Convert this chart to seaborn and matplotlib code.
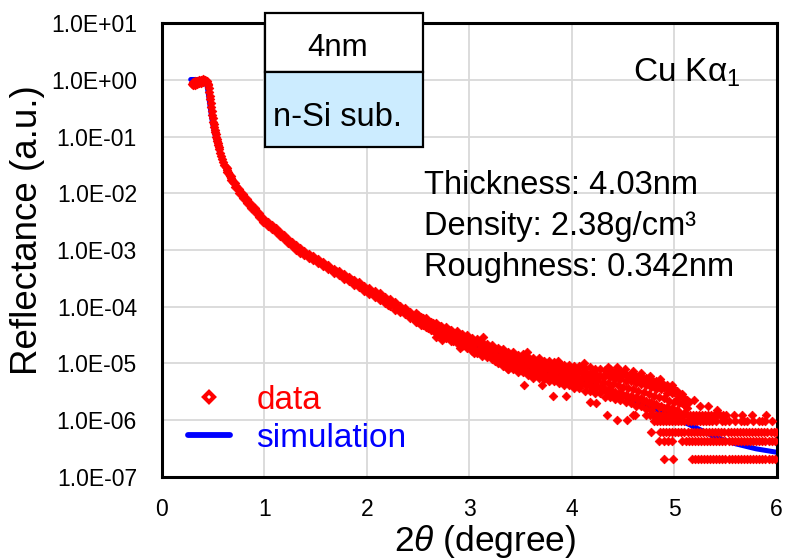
import matplotlib
matplotlib.use("Agg")
import matplotlib.pyplot as plt
import pandas as pd
import seaborn as sns
from matplotlib.lines import Line2D
from matplotlib.patches import Rectangle
from matplotlib.ticker import NullLocator

# ---------------- data ----------------
main_x = [
    0.29, 0.30, 0.31, 0.32, 0.33, 0.34, 0.35, 0.36, 0.37, 0.38,
    0.39, 0.40, 0.41, 0.42, 0.425, 0.43, 0.435, 0.44, 0.445, 0.45,
    0.455, 0.46, 0.465, 0.47, 0.475, 0.48, 0.485, 0.49, 0.495, 0.50,
    0.505, 0.51, 0.515, 0.52, 0.525, 0.53, 0.535, 0.54, 0.545, 0.55,
    0.555, 0.56, 0.57, 0.58, 0.59, 0.60, 0.61, 0.62, 0.63, 0.64,
    0.65, 0.66, 0.67, 0.68, 0.69, 0.70, 0.72, 0.74, 0.76, 0.78,
    0.80, 0.82, 0.84, 0.86, 0.88, 0.90, 0.92, 0.94, 0.96, 0.98,
    1.00, 1.02, 1.04, 1.06, 1.08, 1.10, 1.13, 1.16, 1.19, 1.22,
    1.25, 1.28, 1.31, 1.34, 1.37, 1.40, 1.43, 1.46, 1.49, 1.52,
    1.55, 1.58, 1.61, 1.64, 1.67, 1.70, 1.73, 1.76, 1.79, 1.82,
    1.85, 1.88, 1.91, 1.94, 1.97, 2.00, 2.05, 2.10, 2.15, 2.20,
    2.25, 2.30, 2.35, 2.40, 2.45, 2.50, 2.55, 2.60, 2.65, 2.70,
    2.75, 2.80, 2.85, 2.90, 2.95, 3.00, 3.05, 3.10, 3.15, 3.20,
    3.25, 3.30, 3.35, 3.40, 3.45, 3.50, 3.55, 3.60, 3.65, 3.70,
    3.75, 3.80, 3.85, 3.90, 3.95, 4.00, 4.05, 4.10, 4.15, 4.20,
    4.25, 4.30, 4.35, 4.40, 4.45, 4.50, 4.55, 4.60, 4.65, 4.70,
    4.75, 4.80, 4.85, 4.90, 4.95, 5.00, 5.05, 5.10]
main_y = [
    0.86, 0.87, 0.88, 0.89, 0.90, 0.91, 0.92, 0.93, 0.94, 0.95,
    0.96, 0.97, 0.98, 0.98, 0.97, 0.96, 0.94, 0.90, 0.86, 0.80,
    0.71, 0.61, 0.53, 0.46, 0.39, 0.33, 0.28, 0.245, 0.21, 0.185,
    0.165, 0.148, 0.132, 0.120, 0.110, 0.100, 0.092, 0.084, 0.077, 0.071,
    0.066, 0.061, 0.052, 0.045, 0.040, 0.036, 0.032, 0.029, 0.026, 0.024,
    0.022, 0.020, 0.0185, 0.0172, 0.0160, 0.0150, 0.0132, 0.0117, 0.0104, 0.0094,
    0.0085, 0.0077, 0.0070, 0.0063, 0.0057, 0.0052, 0.0048, 0.0044, 0.0040, 0.0036,
    0.0033, 0.0031, 0.0028, 0.0026, 0.0025, 0.0023, 0.0021, 0.00186, 0.00168, 0.00151,
    0.00137, 0.00124, 0.00111, 0.00100, 0.00093, 0.00085, 0.00079, 0.00074, 0.00069, 0.00065,
    0.00060, 0.00056, 0.00052, 0.00048, 0.00045, 0.00042, 0.00039, 0.00036, 0.00033, 0.00031,
    0.00029, 0.00027, 0.00025, 0.00023, 0.000215, 0.000200, 0.000178, 0.000158, 0.000141, 0.000126,
    1.10e-4, 9.8e-5, 8.7e-5, 7.8e-5, 6.9e-5, 6.2e-5, 5.5e-5, 4.9e-5, 4.4e-5, 3.9e-5,
    3.5e-5, 3.3e-5, 3.0e-5, 2.75e-5, 2.5e-5, 2.3e-5, 2.1e-5, 1.9e-5, 1.76e-5, 1.62e-5,
    1.48e-5, 1.35e-5, 1.23e-5, 1.12e-5, 1.06e-5, 1.00e-5, 9.4e-6, 8.9e-6, 8.5e-6, 8.1e-6,
    7.8e-6, 7.4e-6, 7.0e-6, 6.6e-6, 6.3e-6, 6.0e-6, 5.7e-6, 5.5e-6, 5.3e-6, 5.1e-6,
    4.9e-6, 4.7e-6, 4.5e-6, 4.3e-6, 4.1e-6, 3.9e-6, 3.7e-6, 3.5e-6, 3.3e-6, 3.1e-6,
    2.9e-6, 2.7e-6, 2.5e-6, 2.4e-6, 2.2e-6, 2.1e-6, 2.0e-6, 1.9e-6]

# scatter just above / below the main trace
bandP_x = [0.30, 0.32, 0.34, 0.36, 0.38, 0.40]
bandP_hi = [0.93, 0.95, 0.97, 0.99, 1.01, 1.03]
bandP_lo = [0.81, 0.83, 0.85, 0.87, 0.89, 0.91]

bandL_x = [0.63, 0.67, 0.71, 0.75, 0.79, 0.83, 0.87, 0.91, 0.95, 0.99, 1.03,
           1.07, 1.11, 1.15, 1.19, 1.23, 1.27, 1.31, 1.35, 1.39, 1.43, 1.47]
bandL_hi = [0.0283, 0.0202, 0.0154, 0.0120, 0.0097, 0.0080, 0.0065, 0.00545, 0.00458, 0.0037,
            0.00316, 0.00278, 0.00243, 0.00211, 0.00183, 0.00159, 0.0014, 0.00121, 0.00107,
            0.00096, 0.00086, 0.00078]
bandL_lo = [0.0239, 0.0170, 0.0129, 0.0101, 0.0082, 0.0067, 0.0055, 0.0046, 0.00385, 0.0031,
            0.00266, 0.00234, 0.00205, 0.00178, 0.00154, 0.00134, 0.00117, 0.00102, 0.0009,
            0.00081, 0.00072, 0.00066]

bandA_x = [1.525, 1.575, 1.625, 1.675, 1.725, 1.775, 1.825, 1.875, 1.925, 1.975,
           2.025, 2.075, 2.125, 2.175, 2.225, 2.275]
bandA_hi = [6.8e-4, 6.1e-4, 5.5e-4, 4.7e-4, 4.3e-4, 3.7e-4, 3.4e-4, 3.0e-4, 2.7e-4, 2.3e-4,
            2.1e-4, 1.9e-4, 1.72e-4, 1.5e-4, 1.35e-4, 1.19e-4]
bandA_lo = [6.0e-4, 5.2e-4, 4.7e-4, 4.0e-4, 3.6e-4, 3.1e-4, 2.8e-4, 2.4e-4, 2.2e-4, 1.9e-4,
            1.68e-4, 1.46e-4, 1.33e-4, 1.16e-4, 1.02e-4, 8.8e-5]

bandB_x = [2.325, 2.375, 2.425, 2.475, 2.525, 2.575, 2.625, 2.675, 2.725, 2.775,
           2.825, 2.875, 2.925, 2.975, 3.025, 3.075, 3.125, 3.175, 3.225, 3.275]
bandB_hi = [1.035e-4, 9.4e-5, 8.0e-5, 7.7e-5, 6.7e-5, 6.2e-5, 5.4e-5, 5.1e-5, 4.5e-5, 4.3e-5,
            3.9e-5, 3.7e-5, 3.3e-5, 3.16e-5, 2.8e-5, 2.7e-5, 2.4e-5, 2.2e-5, 2.1e-5, 1.86e-5]
bandB_lo = [8.0e-5, 7.3e-5, 6.2e-5, 5.7e-5, 4.8e-5, 4.4e-5, 3.8e-5, 3.4e-5, 3.0e-5, 2.8e-5,
            2.45e-5, 2.3e-5, 2.0e-5, 1.86e-5, 1.66e-5, 1.55e-5, 1.35e-5, 1.29e-5, 1.17e-5, 1.02e-5]

bandB2_x = [2.50, 2.55, 2.60, 2.65, 2.70, 2.75, 2.80, 2.85, 2.90, 2.95,
            3.00, 3.05, 3.10, 3.15, 3.20, 3.25]
bandB2_hi = [7.1e-5, 6.3e-5, 5.6e-5, 5.1e-5, 4.5e-5, 4.0e-5, 3.8e-5, 3.5e-5, 3.2e-5, 2.9e-5,
             2.65e-5, 2.45e-5, 2.2e-5, 2.05e-5, 1.88e-5, 1.72e-5]
bandB2_lo = [5.3e-5, 4.7e-5, 4.2e-5, 3.8e-5, 3.3e-5, 3.0e-5, 2.8e-5, 2.55e-5, 2.35e-5, 2.15e-5,
             1.96e-5, 1.8e-5, 1.62e-5, 1.5e-5, 1.38e-5, 1.26e-5]

bandC_x = [3.325, 3.375, 3.425, 3.475, 3.525, 3.575, 3.625, 3.675, 3.725, 3.775,
           3.825, 3.875, 3.925, 3.975, 4.025, 4.075, 4.125, 4.175, 4.225, 4.275]
bandC_1 = [1.82e-5, 1.58e-5, 1.58e-5, 1.41e-5, 1.45e-5, 1.29e-5, 1.26e-5, 1.26e-5, 1.12e-5, 1.12e-5,
           1.05e-5, 1.02e-5, 9.5e-6, 9.5e-6, 8.9e-6, 8.9e-6, 8.3e-6, 8.5e-6, 7.9e-6, 7.9e-6]
bandC_2 = [1.48e-5, 1.32e-5, 1.29e-5, 1.17e-5, 1.17e-5, 1.07e-5, 1.0e-5, 1.0e-5, 9.3e-6, 8.7e-6,
           8.7e-6, 7.9e-6, 7.8e-6, 7.2e-6, 7.1e-6, 6.9e-6, 6.5e-6, 6.5e-6, 6.0e-6, 6.0e-6]
bandC_3 = [1.10e-5, 9.5e-6, 9.5e-6, 8.5e-6, 8.3e-6, 7.4e-6, 7.2e-6, 7.1e-6, 6.5e-6, 6.3e-6,
           6.2e-6, 5.5e-6, 5.4e-6, 5.0e-6, 4.9e-6, 4.6e-6, 4.3e-6, 4.3e-6, 4.0e-6, 3.9e-6]
bandC_4 = [9.1e-6, 8.1e-6, 7.9e-6, 6.9e-6, 6.9e-6, 6.2e-6, 6.0e-6, 5.5e-6, 5.4e-6, 4.9e-6,
           4.9e-6, 4.5e-6, 4.2e-6, 4.1e-6, 3.7e-6, 3.6e-6, 3.3e-6, 3.3e-6, 3.0e-6, 2.95e-6]

bandC2_x = [3.30, 3.35, 3.40, 3.45, 3.50, 3.55, 3.60, 3.65, 3.70, 3.75, 3.80,
            3.85, 3.90, 3.95, 4.00, 4.05, 4.10, 4.15, 4.20, 4.25, 4.30]
bandC2_hi = [1.7e-5, 1.58e-5, 1.4e-5, 1.36e-5, 1.27e-5, 1.2e-5, 1.13e-5, 1.1e-5, 1.03e-5, 1.0e-5,
             9.5e-6, 8.9e-6, 8.5e-6, 8.0e-6, 7.7e-6, 7.3e-6, 7.0e-6, 6.8e-6, 6.5e-6, 6.3e-6, 6.0e-6]
bandC2_lo = [1.05e-5, 9.4e-6, 8.8e-6, 8.2e-6, 7.7e-6, 7.3e-6, 6.9e-6, 6.5e-6, 6.3e-6, 6.0e-6,
             5.7e-6, 5.5e-6, 5.1e-6, 4.9e-6, 4.6e-6, 4.4e-6, 4.3e-6, 4.1e-6, 3.9e-6, 3.8e-6, 3.6e-6]

bandD_x = [4.325, 4.375, 4.425, 4.475, 4.525, 4.575, 4.625, 4.675, 4.725, 4.775,
           4.825, 4.875, 4.925, 4.975, 5.025, 5.075, 5.125]
bandD_1 = [7.6e-6, 7.8e-6, 7.1e-6, 7.2e-6, 6.6e-6, 6.6e-6, 6.0e-6, 6.0e-6, 5.5e-6, 5.4e-6,
           4.9e-6, 4.7e-6, 4.2e-6, 4.1e-6, 3.2e-6, 2.9e-6, 2.3e-6]
bandD_2 = [5.9e-6, 5.75e-6, 5.25e-6, 5.25e-6, 4.9e-6, 4.8e-6, 4.5e-6, 4.4e-6, 4.1e-6, 3.85e-6,
           3.55e-6, 3.5e-6, 3.05e-6, 3.0e-6, 2.35e-6, 2.0e-6, 1.6e-6]
bandD_3 = [3.5e-6, 3.5e-6, 3.16e-6, 3.1e-6, 2.8e-6, 2.7e-6, 2.5e-6, 2.4e-6, 2.2e-6, 2.07e-6,
           1.9e-6, 1.8e-6, 1.68e-6, 1.64e-6, 1.5e-6]
bandD_4 = [2.6e-6, 2.6e-6, 2.34e-6, 2.3e-6, 2.1e-6, 2.0e-6, 1.8e-6, 1.74e-6, 1.58e-6, 1.5e-6]

bandD2_x = [4.35, 4.40, 4.45, 4.50, 4.55, 4.60, 4.65, 4.70, 4.75, 4.80,
            4.85, 4.90, 4.95, 5.00, 5.05, 5.10]
bandD2_hi = [7.2e-6, 6.8e-6, 6.6e-6, 6.2e-6, 5.9e-6, 5.6e-6, 5.3e-6, 5.0e-6, 4.6e-6, 4.3e-6,
             4.0e-6, 3.8e-6, 3.5e-6, 3.1e-6, 2.7e-6, 2.4e-6]
bandD2_lo = [3.1e-6, 3.0e-6, 2.8e-6, 2.7e-6, 2.55e-6, 2.4e-6, 2.3e-6, 2.15e-6, 2.0e-6, 1.86e-6,
             1.72e-6, 1.65e-6, 1.52e-6, 1.45e-6, 1.4e-6, 1.35e-6]

out_x = [2.21, 2.48, 2.58, 2.67, 2.73, 2.84, 2.91, 3.05, 3.13, 3.25,
         3.38, 3.53, 3.56, 3.62, 3.71, 3.82, 3.87, 3.94, 4.12, 4.18,
         4.24, 4.34, 4.35, 4.44, 4.44, 4.52, 4.54, 4.60, 4.60, 4.62,
         4.68, 4.76, 4.86, 4.98, 5.14, 5.19, 5.25, 5.33, 5.42]
out_y = [1.05e-4, 5.3e-5, 5.8e-5, 2.9e-5, 2.6e-5, 2.5e-5, 1.9e-5, 1.55e-5, 2.9e-5, 1.1e-5,
         7.9e-6, 4.2e-6, 1.6e-5, 5.6e-6, 4.2e-6, 2.7e-6, 1.1e-5, 2.7e-6, 1.0e-5, 2.1e-6,
         2.0e-6, 1.25e-6, 8.5e-6, 8.7e-6, 1.0e-6, 8.0e-6, 1.0e-6, 7.2e-6, 1.25e-6, 1.25e-6,
         6.8e-6, 6.0e-6, 5.2e-6, 3.9e-6, 2.1e-6, 2.3e-6, 1.74e-6, 1.74e-6, 1.5e-6]

# count-limited levels at high angle
floor_levels = [2.05e-7, 4.2e-7, 6.2e-7, 9.8e-7, 1.25e-6]
floor1_x = [4.90, 4.99, 5.17, 5.20, 5.23, 5.26, 5.29, 5.32, 5.35, 5.38, 5.41, 5.44, 5.47,
            5.50, 5.53, 5.56, 5.59, 5.62, 5.65, 5.68, 5.71, 5.74, 5.77, 5.80, 5.83, 5.86,
            5.89, 5.92, 5.95, 5.98]
floor2_x = [4.85, 4.90, 4.94, 4.98, 5.08, 5.11, 5.14, 5.17, 5.20, 5.23, 5.26, 5.29, 5.32,
            5.35, 5.38, 5.41, 5.44, 5.47, 5.50, 5.53, 5.56, 5.59, 5.62, 5.65, 5.68, 5.71,
            5.74, 5.77, 5.80, 5.83, 5.86, 5.89, 5.92, 5.95, 5.98]
floor3_x = [4.77, 4.86, 4.89, 4.92, 4.95, 4.98, 5.01, 5.04, 5.07, 5.10, 5.13, 5.16, 5.19,
            5.22, 5.25, 5.28, 5.31, 5.34, 5.37, 5.40, 5.43, 5.46, 5.49, 5.52, 5.55, 5.58,
            5.61, 5.64, 5.67, 5.70, 5.73, 5.76, 5.79, 5.82, 5.85, 5.88, 5.91, 5.94, 5.97, 5.99]
floor4_x = [4.80, 4.83, 4.86, 4.89, 4.92, 4.95, 4.98, 5.01, 5.04, 5.07, 5.10, 5.13, 5.16,
            5.19, 5.22, 5.25, 5.28, 5.31, 5.34, 5.37, 5.41, 5.47, 5.50, 5.53, 5.59, 5.65,
            5.68, 5.71, 5.77, 5.83, 5.86, 5.89, 5.95]
floor5_x = [4.72, 4.76, 4.79, 4.82, 4.85, 4.88, 4.91, 4.94, 4.97, 5.00, 5.03, 5.06, 5.09,
            5.12, 5.15, 5.18, 5.21, 5.24, 5.27, 5.30, 5.33, 5.36, 5.39, 5.42, 5.45, 5.48,
            5.51, 5.58, 5.66, 5.76, 5.90]

# simulation curve
sim_x = [0.28, 0.32, 0.36, 0.40, 0.42, 0.43, 0.44, 0.45, 0.46, 0.47, 0.48, 0.49, 0.50,
         0.52, 0.54, 0.56, 0.58, 0.60, 0.63, 0.66, 0.70, 0.75, 0.80, 0.90, 1.00, 1.10,
         1.20, 1.30, 1.40, 1.50, 1.60, 1.70, 1.80, 1.90, 2.00, 2.20, 2.40, 2.60, 2.80,
         3.00, 3.20, 3.40, 3.60, 3.80, 4.00, 4.20, 4.40, 4.60, 4.80, 5.00, 5.20, 5.40,
         5.60, 5.80, 6.00]
sim_y = [1.02, 1.02, 1.01, 1.00, 0.97, 0.91, 0.78, 0.60, 0.45, 0.33, 0.25, 0.19, 0.150,
         0.102, 0.073, 0.055, 0.042, 0.034, 0.026, 0.0205, 0.0155, 0.0112, 0.0085, 0.0053,
         0.0034, 0.0023, 0.00162, 0.00118, 0.00086, 0.00065, 0.00049, 0.00039, 0.00031,
         0.00025, 0.000200, 0.000130, 0.000080, 0.000050, 0.000033, 0.000022, 1.55e-5,
         1.13e-5, 8.5e-6, 6.6e-6, 5.2e-6, 4.1e-6, 3.1e-6, 2.3e-6, 1.6e-6, 1.1e-6, 7.5e-7,
         5.0e-7, 3.8e-7, 3.1e-7, 2.7e-7]

y_ticks = [1e-7, 1e-6, 1e-5, 1e-4, 1e-3, 1e-2, 1e-1, 1e0, 1e1]
y_tick_labels = ["1.0E-07", "1.0E-06", "1.0E-05", "1.0E-04", "1.0E-03",
                 "1.0E-02", "1.0E-01", "1.0E+00", "1.0E+01"]
x_ticks = [0, 1, 2, 3, 4, 5, 6]
x_tick_labels = ["0", "1", "2", "3", "4", "5", "6"]
series_labels = ["data", "simulation"]
fit_lines = ["Thickness: 4.03nm", "Density: 2.38g/cm\u00b3", "Roughness: 0.342nm"]

# ---------------- assemble ----------------
xs, ys = list(main_x), list(main_y)
for bx, rows in [(bandP_x, [bandP_hi, bandP_lo]),
                 (bandL_x, [bandL_hi, bandL_lo]),
                 (bandA_x, [bandA_hi, bandA_lo]),
                 (bandB_x, [bandB_hi, bandB_lo]),
                 (bandB2_x, [bandB2_hi, bandB2_lo]),
                 (bandC_x, [bandC_1, bandC_2, bandC_3, bandC_4]),
                 (bandC2_x, [bandC2_hi, bandC2_lo]),
                 (bandD_x, [bandD_1, bandD_2, bandD_3, bandD_4]),
                 (bandD2_x, [bandD2_hi, bandD2_lo])]:
    for r in rows:
        xs += bx[:len(r)]
        ys += r
xs += out_x
ys += out_y
for lvl, fx in zip(floor_levels, [floor1_x, floor2_x, floor3_x, floor4_x, floor5_x]):
    xs += fx
    ys += [lvl] * len(fx)

data_df = pd.DataFrame({"angle": xs, "refl": ys})
sim_df = pd.DataFrame({"angle": sim_x, "refl": sim_y})

# ---------------- plot ----------------
sns.set_theme(style="white")
plt.rcParams["font.family"] = ["Liberation Sans", "DejaVu Sans"]
plt.rcParams["mathtext.fontset"] = "custom"
plt.rcParams["mathtext.rm"] = "Liberation Sans"
plt.rcParams["mathtext.it"] = "Liberation Sans:italic"
plt.rcParams["text.color"] = "black"
plt.rcParams["axes.labelcolor"] = "black"

W, H = 787, 560
fig = plt.figure(figsize=(W / 100, H / 100), dpi=100)
L, R, T, B = 162, 776.7, 23.3, 476.7
ax = fig.add_axes([L / W, 1 - B / H, (R - L) / W, (B - T) / H])

RED = "#FF0000"
BLUE = "#0000FF"

sns.lineplot(data=sim_df, x="angle", y="refl", ax=ax, color=BLUE, linewidth=3.6,
             sort=False, estimator=None, zorder=2)
sns.scatterplot(data=data_df, x="angle", y="refl", ax=ax, marker="D", s=19,
                color=RED, edgecolor=RED, linewidth=0.6, zorder=3)

ax.set_yscale("log")
ax.set_xlim(0, 6)
ax.set_ylim(1e-7, 1e1)
ax.set_yticks(y_ticks)
ax.set_yticklabels(y_tick_labels)
ax.yaxis.set_minor_locator(NullLocator())
ax.set_xticks(x_ticks)
ax.set_xticklabels(x_tick_labels)
ax.tick_params(axis="both", length=0, labelsize=16.5, colors="black")
ax.tick_params(axis="y", pad=18)
ax.tick_params(axis="x", pad=15)

ax.grid(True, which="major", color="#D9D9D9", linewidth=1.3)
ax.set_axisbelow(True)
for sp in ax.spines.values():
    sp.set_visible(True)
    sp.set_color("black")
    sp.set_linewidth(2.2)

ax.set_xlabel(r"$\mathit{2\theta}$ (degree)", fontsize=25.5, va="center")
ax.xaxis.set_label_coords((485 - L) / (R - L), (B - 541) / (B - T))
ax.set_ylabel("Reflectance (a.u.)", fontsize=26.5, va="center")
ax.yaxis.set_label_coords((27 - L) / (R - L), (B - 230) / (B - T))

# legend
h_data = Line2D([], [], marker="D", linestyle="none", markersize=5.5,
                markerfacecolor="white", markeredgecolor=RED, markeredgewidth=3, color=RED)
h_sim = Line2D([], [], color=BLUE, linewidth=4.2)
ax.legend([h_data, h_sim], series_labels, loc="upper left",
          bbox_to_anchor=((188 - L) / (R - L), (B - 385) / (B - T)),
          frameon=False, fontsize=24, handlelength=1.25, handletextpad=0.8,
          labelspacing=0.2, borderpad=0, borderaxespad=0,
          labelcolor=[RED, BLUE])

# layer structure box
bx0, bx1 = 265, 422.5
fig.add_artist(Rectangle((bx0 / W, 1 - 72 / H), (bx1 - bx0) / W, (72 - 12.5) / H,
                         transform=fig.transFigure, facecolor="white",
                         edgecolor="black", linewidth=1.6, zorder=5))
fig.add_artist(Rectangle((bx0 / W, 1 - 147 / H), (bx1 - bx0) / W, (147 - 72) / H,
                         transform=fig.transFigure, facecolor="#CCECFF",
                         edgecolor="black", linewidth=1.6, zorder=5))
fig.text(337.5 / W, 1 - 56.5 / H, "4nm", ha="center", va="baseline", fontsize=22.5, zorder=6)
fig.text(337.5 / W, 1 - 126.5 / H, "n-Si sub.", ha="center", va="baseline", fontsize=23.5, zorder=6)

fig.text(741 / W, 1 - 82 / H, r"Cu K$\mathregular{\alpha_1}$", ha="right", va="baseline",
         fontsize=24)

for i, line in enumerate(fit_lines):
    fig.text(423.5 / W, 1 - (194 + 40.8 * i) / H, line, ha="left", va="baseline",
             fontsize=23.5)

fig.savefig("out.png", dpi=100)
